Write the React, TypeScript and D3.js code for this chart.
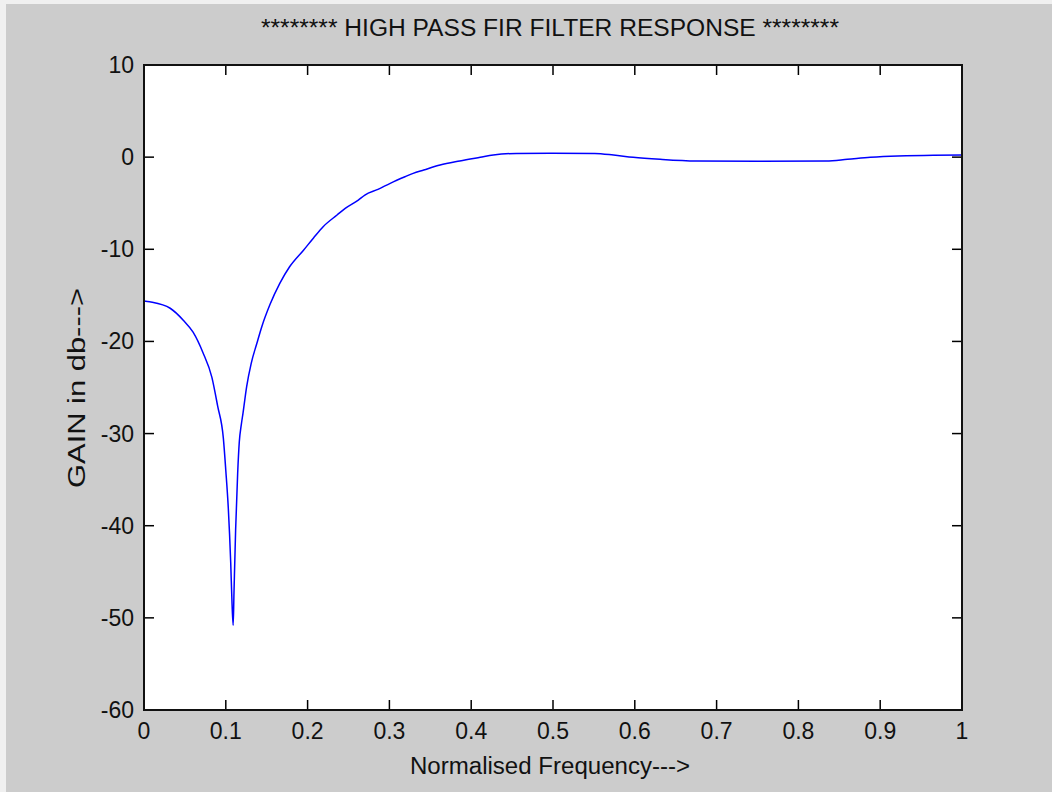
import React from "react";
import * as d3 from "d3";

const freq = [0, 0.007, 0.032, 0.048, 0.06, 0.072, 0.083, 0.09, 0.097, 0.1, 0.103, 0.106, 0.1076, 0.109, 0.11, 0.112, 0.1145, 0.1165, 0.119, 0.121, 0.1255, 0.131, 0.138, 0.144, 0.154, 0.166, 0.178, 0.195, 0.207, 0.219, 0.236, 0.246, 0.262, 0.27, 0.286, 0.301, 0.319, 0.329, 0.342, 0.362, 0.386, 0.411, 0.427, 0.455, 0.5, 0.551, 0.574, 0.598, 0.631, 0.675, 0.75, 0.834, 0.86, 0.888, 0.965, 1.0];
const gainDb = [-15.6, -15.7, -16.4, -17.7, -19.0, -21.2, -23.9, -27.0, -30.5, -34.0, -38.0, -44.0, -48.4, -50.8, -47.3, -40.5, -34.3, -30.9, -29.0, -27.8, -24.9, -22.4, -20.2, -18.4, -16.0, -13.7, -11.9, -10.1, -8.8, -7.55, -6.28, -5.56, -4.66, -4.11, -3.5, -2.84, -2.13, -1.76, -1.4, -0.86, -0.42, -0.02, 0.23, 0.4, 0.42, 0.4, 0.23, -0.02, -0.24, -0.42, -0.45, -0.42, -0.24, -0.02, 0.2, 0.22];

const xTicks = [0, 0.1, 0.2, 0.3, 0.4, 0.5, 0.6, 0.7, 0.8, 0.9, 1];
const xTickLabels = ["0", "0.1", "0.2", "0.3", "0.4", "0.5", "0.6", "0.7", "0.8", "0.9", "1"];
const yTicks = [-60, -50, -40, -30, -20, -10, 0, 10];
const yTickLabels = ["-60", "-50", "-40", "-30", "-20", "-10", "0", "10"];

const title = "******** HIGH PASS FIR FILTER RESPONSE ********";
const xLabel = "Normalised Frequency--->";
const yLabel = "GAIN in db--->";

const W = 1052;
const H = 792;
const L = 144, R = 962, T = 65, B = 710;
const FONT = "'Liberation Sans', Arial, Helvetica, sans-serif";

export default function App() {
  const x = d3.scaleLinear().domain([0, 1]).range([L, R]);
  const y = d3.scaleLinear().domain([-60, 10]).range([B, T]);
  const pts = freq.map((f, i) => [f, gainDb[i]] as [number, number]);
  const line = d3
    .line<[number, number]>()
    .x((d) => x(d[0]))
    .y((d) => y(d[1]))
    .curve(d3.curveMonotoneX);
  const tl = 10;
  return (
    <svg width={W} height={H} style={{ position: "absolute", left: 0, top: 0, display: "block" }}>
      <rect x={0} y={0} width={W} height={H} fill="#f0f0f0" />
      <rect x={6} y={4} width={W - 6} height={H - 4} fill="#cccccc" />
      <rect x={L} y={T} width={R - L} height={B - T} fill="#ffffff" />
      <clipPath id="plotclip">
        <rect x={L} y={T} width={R - L} height={B - T} />
      </clipPath>
      <path d={line(pts) || ""} fill="none" stroke="#0000ff" strokeWidth={1.5} clipPath="url(#plotclip)" />
      {xTicks.map((t, i) => (
        <g key={"xt" + i}>
          <line x1={x(t)} x2={x(t)} y1={B} y2={B - tl} stroke="#000" strokeWidth={1.5} />
          <line x1={x(t)} x2={x(t)} y1={T} y2={T + tl} stroke="#000" strokeWidth={1.5} />
          <text x={x(t)} y={739} textAnchor="middle" fontFamily={FONT} fontSize={23} fill="#111">
            {xTickLabels[i]}
          </text>
        </g>
      ))}
      {yTicks.map((t, i) => (
        <g key={"yt" + i}>
          <line x1={L} x2={L + tl} y1={y(t)} y2={y(t)} stroke="#000" strokeWidth={1.5} />
          <line x1={R} x2={R - tl} y1={y(t)} y2={y(t)} stroke="#000" strokeWidth={1.5} />
          <text x={134} y={y(t) + 8} textAnchor="end" fontFamily={FONT} fontSize={23} fill="#111">
            {yTickLabels[i]}
          </text>
        </g>
      ))}
      <rect x={L} y={T} width={R - L} height={B - T} fill="none" stroke="#111" strokeWidth={2} />
      <text x={550} y={36} textAnchor="middle" fontFamily={FONT} fontSize={23} fill="#111"
        textLength={578} lengthAdjust="spacingAndGlyphs">
        {title}
      </text>
      <text x={550} y={774} textAnchor="middle" fontFamily={FONT} fontSize={23} fill="#111"
        textLength={280} lengthAdjust="spacingAndGlyphs">
        {xLabel}
      </text>
      <text
        transform={`translate(85, 388) rotate(-90)`}
        textAnchor="middle"
        fontFamily={FONT}
        fontSize={23}
        fill="#111"
        textLength={200}
        lengthAdjust="spacingAndGlyphs"
      >
        {yLabel}
      </text>
    </svg>
  );
}
